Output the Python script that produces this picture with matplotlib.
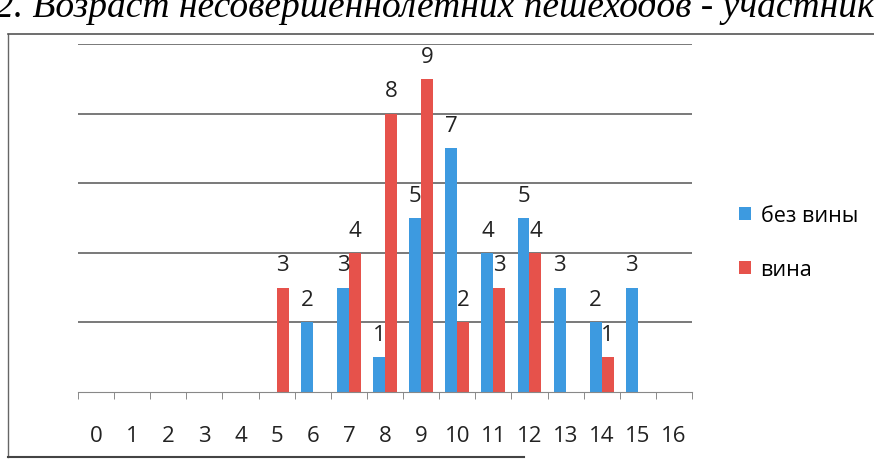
import matplotlib
matplotlib.use("Agg")
import matplotlib.pyplot as plt
from matplotlib.lines import Line2D
import numpy as np

# Ages of under-age pedestrians (0..16)
ages = list(range(17))
bez_viny = [0, 0, 0, 0, 0, 0, 2, 3, 1, 5, 7, 4, 5, 3, 2, 3, 0]
vina = [0, 0, 0, 0, 0, 3, 0, 4, 8, 9, 2, 3, 4, 0, 1, 0, 0]
series_names = ["без вины", "вина"]
title = "2. Возраст несовершеннолетних пешеходов - участников"

blue = "#3d9ae0"
red = "#e6524b"
plt.rcParams['font.family'] = ['Open Sans', 'DejaVu Sans']

fig = plt.figure(figsize=(8.74, 4.6), dpi=100)
ax = fig.add_axes([78 / 874, 67 / 460, (692 - 78) / 874, (393 - 45) / 460])

x = np.arange(len(ages))
w = 0.33
b1 = ax.bar(x - w / 2, bez_viny, w, color=blue, label=series_names[0])
b2 = ax.bar(x + w / 2, vina, w, color=red, label=series_names[1])

# data labels, zeros skipped
for bars, vals in ((b1, bez_viny), (b2, vina)):
    for r, v in zip(bars, vals):
        if v > 0:
            ax.text(r.get_x() + r.get_width() / 2, v + 0.35, str(v),
                    ha='center', va='bottom', fontsize=16, color='#222222')

ax.set_xlim(-0.5, 16.5)
ax.set_ylim(0, 10)
ax.set_yticks([2, 4, 6, 8, 10])
ax.yaxis.grid(True, color='#555555', linewidth=1.1)
ax.set_axisbelow(True)
ax.tick_params(axis='y', left=False, labelleft=False)
ax.set_xticks(x)
ax.set_xticklabels([str(a) for a in ages], fontsize=16, color='#222222')
ax.set_xticks(np.arange(-0.5, 17, 1), minor=True)
ax.tick_params(axis='x', which='major', length=0, pad=24)
ax.tick_params(axis='x', which='minor', length=5, color='#777777')
for s in ['top', 'right', 'left']:
    ax.spines[s].set_visible(False)
ax.spines['bottom'].set_color('#888888')

ax.legend(loc='center left', bbox_to_anchor=(1.045, 0.43), frameon=False,
          fontsize=15.5, handlelength=0.55, handleheight=0.55,
          labelspacing=1.55, handletextpad=0.45)

# chart frame of the scanned page
fig.add_artist(Line2D([8 / 874, 8 / 874], [2 / 460, 1 - 35 / 460],
                      color='#666666', lw=1, transform=fig.transFigure))
fig.add_artist(Line2D([8 / 874, 1], [1 - 35 / 460, 1 - 35 / 460],
                      color='#555555', lw=1.2, transform=fig.transFigure))
fig.add_artist(Line2D([8 / 874, 0.6], [2 / 460, 2 / 460],
                      color='#444444', lw=1.5, transform=fig.transFigure))

fig.text(-0.006, 1 - 17 / 460, title, fontsize=27, style='italic',
         family='Liberation Serif', va='baseline', ha='left')

fig.savefig("out.png", dpi=100)
